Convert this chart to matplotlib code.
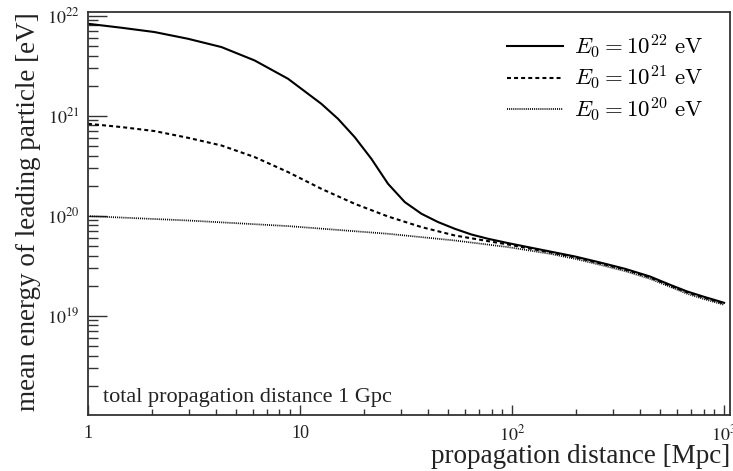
import matplotlib
matplotlib.use("Agg")
import numpy as np
import matplotlib.pyplot as plt
from matplotlib.font_manager import FontProperties
from matplotlib.ticker import LogLocator, FixedLocator, NullFormatter

# propagation distance [Mpc] and log10 of the mean leading-particle energy [eV]
dist_e22 = [1, 1.44, 2.06, 2.96, 4.26, 6.11, 8.78, 12.6, 15.1, 18.1, 21.7, 26.0, 31.2,
            37.4, 44.8, 53.7, 64.3, 77.1, 95.7, 115, 151, 198, 260, 341, 447, 556, 670,
            795, 1000]
log_e22 = [21.92, 21.88, 21.837, 21.77, 21.687, 21.553, 21.37, 21.12, 20.97, 20.787,
           20.57, 20.32, 20.137, 20.02, 19.937, 19.87, 19.813, 19.77, 19.727, 19.693,
           19.643, 19.593, 19.533, 19.47, 19.393, 19.31, 19.243, 19.193, 19.13]

dist_e21 = [1, 1.44, 2.06, 2.96, 4.26, 6.11, 8.78, 12.6, 18.1, 26.0, 37.4, 53.7, 95.7,
            151, 198, 260, 341, 447, 556, 670, 795, 1000]
log_e21 = [20.92, 20.887, 20.847, 20.78, 20.703, 20.587, 20.437, 20.27, 20.12, 19.993,
           19.887, 19.803, 19.713, 19.635, 19.585, 19.525, 19.462, 19.385, 19.302,
           19.235, 19.185, 19.122]

dist_e20 = [1, 2.96, 8.78, 26.0, 53.7, 95.7, 151, 198, 260, 341, 447, 556, 670, 795, 1000]
log_e20 = [19.997, 19.953, 19.897, 19.82, 19.753, 19.687, 19.62, 19.57, 19.51, 19.447,
           19.37, 19.29, 19.22, 19.17, 19.11]

legend_labels = [r"$E_0 = 10^{22}\ \mathrm{eV}$",
                 r"$E_0 = 10^{21}\ \mathrm{eV}$",
                 r"$E_0 = 10^{20}\ \mathrm{eV}$"]
x_ticks = [1, 10, 100, 1000]
x_tick_labels = ["1", "10", r"$10^{2}$", r"$10^{3}$"]
y_ticks = [1e19, 1e20, 1e21, 1e22]
y_tick_labels = [r"$10^{19}$", r"$10^{20}$", r"$10^{21}$", r"$10^{22}$"]

plt.rcParams["font.family"] = ["Liberation Serif", "DejaVu Serif"]
plt.rcParams["mathtext.fontset"] = "stix"

axis_color = "#333333"
text_color = "#222222"

fig = plt.figure(figsize=(7.33, 4.71), dpi=100)
ax = fig.add_axes([0.120, 0.119, 0.876, 0.855])

ax.plot(dist_e22, np.power(10.0, log_e22), color="black", lw=1.5, ls="-")
ax.plot(dist_e21, np.power(10.0, log_e21), color="black", lw=1.5, dashes=(1.9, 1.5))
ax.plot(dist_e20, np.power(10.0, log_e20), color="black", lw=1.25, dashes=(0.6, 0.6))

ax.set_xscale("log")
ax.set_yscale("log")
ax.set_xlim(1, 1067)
ax.set_ylim(1.02e18, 1.084e22)

# frame and ticks
for sp in ax.spines.values():
    sp.set_color(axis_color)
    sp.set_linewidth(1.3)

ax.xaxis.set_major_locator(FixedLocator(x_ticks))
ax.set_xticklabels(x_tick_labels)
ax.xaxis.set_minor_locator(LogLocator(base=10, subs=range(2, 10), numticks=20))
ax.xaxis.set_minor_formatter(NullFormatter())

ax.yaxis.set_major_locator(FixedLocator(y_ticks))
ax.set_yticklabels(y_tick_labels)
ax.yaxis.set_minor_locator(LogLocator(base=10, subs=range(2, 10), numticks=20))
ax.yaxis.set_minor_formatter(NullFormatter())

ax.tick_params(axis="x", which="major", direction="in", length=7.5, width=1.0,
               color=axis_color, labelsize=13, pad=7, top=False, labelcolor=text_color)
ax.tick_params(axis="x", which="minor", direction="in", length=4, width=1.0,
               color=axis_color, top=False)
ax.tick_params(axis="y", which="major", direction="in", length=14, width=1.0,
               color=axis_color, labelsize=13, pad=6, right=False, labelcolor=text_color)
ax.tick_params(axis="y", which="minor", direction="in", length=7, width=1.0,
               color=axis_color, right=False)

ax.set_xlabel("propagation distance [Mpc]", fontsize=19.5, ha="right", va="top",
              color=text_color)
ax.xaxis.set_label_coords(1.0, -0.073)
ax.set_ylabel("mean energy of leading particle [eV]", fontsize=19.5, ha="right",
              va="bottom", color=text_color)
ax.yaxis.set_label_coords(-0.073, 1.0)

ax.text(0.023, 0.032, "total propagation distance 1 Gpc", transform=ax.transAxes,
        fontsize=16, color=text_color, ha="left", va="baseline")

ax.legend(legend_labels, loc="upper right", bbox_to_anchor=(0.958, 0.95),
          frameon=False, borderpad=0, borderaxespad=0, handlelength=2.45,
          handletextpad=0.48, labelspacing=0.15,
          prop=FontProperties(size=16.5, math_fontfamily="cm"))

fig.savefig("out.png", dpi=100)
